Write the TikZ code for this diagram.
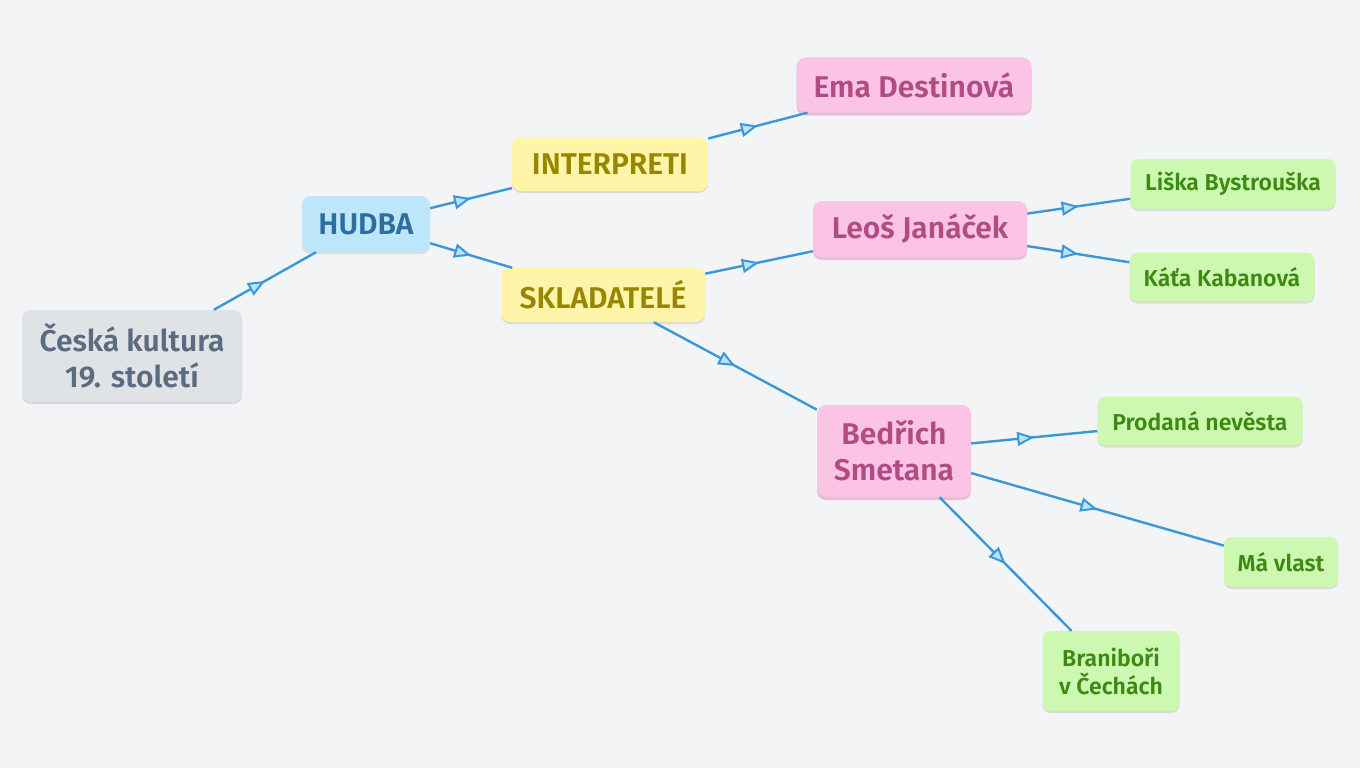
\documentclass[tikz,border=0pt]{standalone}
\usepackage{fontspec}
\setmainfont{Fira Sans SemiBold}
\usetikzlibrary{arrows.meta,decorations.markings,shadows}
\definecolor{bg}{HTML}{F2F4F6}
\definecolor{edgec}{HTML}{3A98D8}
\definecolor{arrfill}{HTML}{BDE3F8}
\definecolor{rootfill}{HTML}{E0E3E6}
\definecolor{roottext}{HTML}{5B6B82}
\definecolor{bluefill}{HTML}{BDE6FB}
\definecolor{bluetext}{HTML}{2C6E9F}
\definecolor{yelfill}{HTML}{FFF5A8}
\definecolor{yeltext}{HTML}{978600}
\definecolor{pinkfill}{HTML}{FBC4E4}
\definecolor{pinktext}{HTML}{B04B83}
\definecolor{pinkshadow}{HTML}{D88AB8}
\definecolor{greenfill}{HTML}{CDF8B2}
\definecolor{greentext}{HTML}{3C8A10}
\tikzset{
  box/.style={rounded corners=9pt, inner sep=0pt, align=center, font=\fontsize{30}{36}\selectfont},
  rootbox/.style={box, fill=rootfill, text=roottext, drop shadow={shadow xshift=0pt, shadow yshift=-2pt, opacity=0.12, fill=black}},
  bluebox/.style={box, fill=bluefill, text=bluetext, drop shadow={shadow xshift=0pt, shadow yshift=-2pt, opacity=0.10, fill=black}},
  yelbox/.style={box, fill=yelfill, text=yeltext, drop shadow={shadow xshift=0pt, shadow yshift=-2pt, opacity=0.10, fill=black}},
  pinkbox/.style={box, fill=pinkfill, text=pinktext, drop shadow={shadow xshift=0pt, shadow yshift=-3pt, opacity=0.5, fill=pinkshadow}},
  greenbox/.style={box, rounded corners=8pt, fill=greenfill, text=greentext, font=\fontsize{23}{28}\selectfont, drop shadow={shadow xshift=0pt, shadow yshift=-2pt, opacity=0.10, fill=black}},
  edge/.style={draw=edgec, line width=2.4pt,
    postaction={decorate, decoration={markings, mark=at position 0.5 with {\arrow{Triangle[length=17pt, width=14pt, fill=arrfill, line width=2pt]}}}}},
}
\begin{document}
\begin{tikzpicture}[x=1pt,y=-1pt]
\useasboundingbox (0,0) rectangle (1360,768);
\fill[bg] (0,0) rectangle (1360,768);
\node[rootbox, minimum width=220pt, minimum height=92pt] (root) at (132,356) {Česká kultura\\19. století};
\node[bluebox, minimum width=128pt, minimum height=56pt] (hudba) at (366,224) {HUDBA};
\node[yelbox, minimum width=196pt, minimum height=54pt] (interp) at (610,164) {INTERPRETI};
\node[yelbox, minimum width=204pt, minimum height=54pt] (sklad) at (603,295) {SKLADATELÉ};
\node[pinkbox, minimum width=235pt, minimum height=55pt] (ema) at (914,85) {Ema Destinová};
\node[pinkbox, minimum width=214pt, minimum height=56pt] (janacek) at (920,229) {Leoš Janáček};
\node[pinkbox, minimum width=154pt, minimum height=92pt] (smetana) at (894,451) {Bedřich\\Smetana};
\node[greenbox, minimum width=205pt, minimum height=50pt] (liska) at (1233,184) {Liška Bystrouška};
\node[greenbox, minimum width=185pt, minimum height=49pt] (kata) at (1222,277) {Káťa Kabanová};
\node[greenbox, minimum width=205pt, minimum height=49pt] (prodana) at (1200,421) {Prodaná nevěsta};
\node[greenbox, minimum width=114pt, minimum height=50pt] (vlast) at (1281,562) {Má vlast};
\node[greenbox, minimum width=137pt, minimum height=80pt] (brani) at (1111,671) {Braniboři\\v Čechách};
\draw[edge] (root) -- (hudba);
\draw[edge] (hudba) -- (interp);
\draw[edge] (hudba) -- (sklad);
\draw[edge] (interp) -- (ema);
\draw[edge] (sklad) -- (janacek);
\draw[edge] (sklad) -- (smetana);
\draw[edge] (janacek) -- (liska);
\draw[edge] (janacek) -- (kata);
\draw[edge] (smetana) -- (prodana);
\draw[edge] (smetana) -- (vlast);
\draw[edge] (smetana) -- (brani);
\end{tikzpicture}
\end{document}
